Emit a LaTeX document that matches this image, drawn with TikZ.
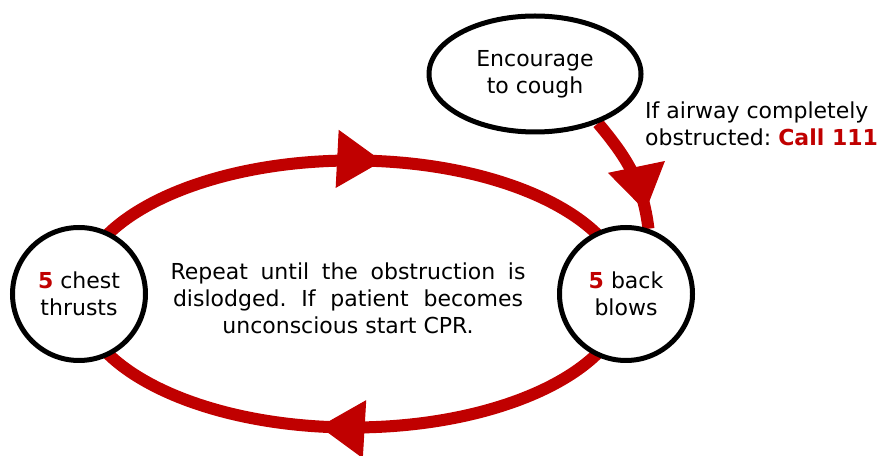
\documentclass[tikz,border=0pt]{standalone}
\usepackage{fontspec}
\setmainfont{DejaVu Sans}
\usetikzlibrary{arrows.meta,decorations.markings,shapes.geometric}
\definecolor{alarm}{RGB}{192,0,0}
\pgfdeclarelayer{back}
\pgfsetlayers{back,main}
\frenchspacing

\begin{document}
\begin{tikzpicture}[x=1pt,y=1pt,font=\fontsize{22}{27}\selectfont,
 stepcircle/.style={draw,circle,line width=5pt,fill=white,minimum size=133pt,inner sep=0pt,align=center},
 flow/.style={alarm,line width=12pt,postaction={decorate},
  decoration={markings,mark=#1 with {\arrow{Triangle[length=45pt,width=58pt,line width=1pt]}}}}]
\useasboundingbox (0,0) rectangle (891,455);
\node[stepcircle] (chest) at (79,161) {\textcolor{alarm}{\textbf{5}} chest\\thrusts};
\node[stepcircle] (back) at (626,161) {\textcolor{alarm}{\textbf{5}} back\\blows};
\node[draw,ellipse,line width=5pt,fill=white,minimum width=212pt,minimum height=116pt,inner sep=0pt,align=center] (cough) at (535,381) {Encourage\\to cough};
\node[align=center,inner sep=0pt] (repeat) at (348,157) {\makebox[355pt][s]{Repeat until the obstruction is}\\\makebox[350pt][s]{dislodged. If patient becomes}\\unconscious start CPR.};
\node[align=left,anchor=west,inner sep=0pt] (call) at (645,331.5) {If airway completely\\obstructed: \textcolor{alarm}{\textbf{Call 111}}};
\begin{pgfonlayer}{back}
\draw[flow=at position 0.545] (chest.center) arc[start angle=180,end angle=0,x radius=273.5pt,y radius=133.5pt];
\draw[flow=at position 0.55] (back.center) arc[start angle=0,end angle=-180,x radius=273.5pt,y radius=133.5pt];
\draw[flow=at position -18pt] (cough.-38) to[out=-50,in=97] (back.71);
\end{pgfonlayer}
\end{tikzpicture}
\end{document}
